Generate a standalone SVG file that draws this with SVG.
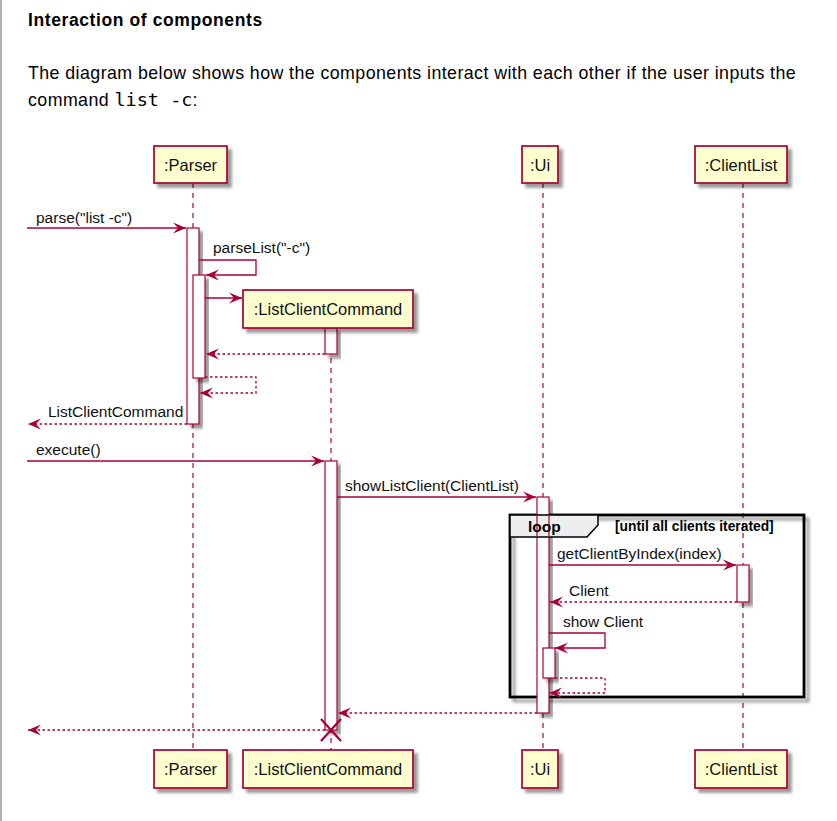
<svg xmlns="http://www.w3.org/2000/svg" width="837" height="821" viewBox="0 0 837 821">
<defs>
<style>
.pbox{fill:#FEFECE;stroke:#A80036;stroke-width:1.7}
.ptxt{font-family:"Liberation Sans",Arial,sans-serif;font-size:16.5px;fill:#111;text-anchor:middle}
.act{fill:#FFFFFF;stroke:#A80036;stroke-width:1.2}
.life{stroke:#A80036;stroke-width:1.2;stroke-dasharray:5,5;fill:none}
.msg{stroke:#A80036;stroke-width:1.3;fill:none;marker-end:url(#ah)}
.ret{stroke:#A80036;stroke-width:1.3;fill:none;stroke-dasharray:2.5,2.5;marker-end:url(#ah)}
.mtxt{font-family:"Liberation Sans",Arial,sans-serif;font-size:15.5px;fill:#111}
.doc{font-family:"Liberation Sans",Arial,sans-serif;fill:#000}
</style>
<marker id="ah" viewBox="-14 -7 15 14" refX="0" refY="0" markerWidth="15" markerHeight="14" markerUnits="userSpaceOnUse" orient="auto">
<path d="M0,0 L-13,-5.5 L-8,0 L-13,5.5 Z" fill="#A80036"/>
</marker>
<filter id="sh" x="-20%" y="-20%" width="150%" height="150%">
<feGaussianBlur in="SourceAlpha" stdDeviation="1.8"/>
<feOffset dx="4" dy="4" result="b"/>
<feFlood flood-color="#000" flood-opacity="0.4"/>
<feComposite in2="b" operator="in"/>
<feMerge><feMergeNode/><feMergeNode in="SourceGraphic"/></feMerge>
</filter>
</defs>
<rect x="0" y="0" width="837" height="821" fill="#FFFFFF"/>
<line x1="1" y1="0" x2="1" y2="821" stroke="#9A9A9A" stroke-width="1.5"/>

<g id="doc-text">
<text class="doc" x="28" y="26" font-size="17.5" font-weight="bold" letter-spacing="0.6">Interaction of components</text>
<text class="doc" x="28" y="79" font-size="17.8" letter-spacing="0.43">The diagram below shows how the components interact with each other if the user inputs the</text>
<text class="doc" x="28" y="106" font-size="17.8" letter-spacing="0.43">command <tspan font-family="DejaVu Sans Mono,monospace" font-size="18.5" letter-spacing="0">list -c</tspan>:</text>
</g>

<g id="lifelines">
<line class="life" x1="193" y1="183" x2="193" y2="750"/>
<line class="life" x1="331" y1="328" x2="331" y2="750"/>
<line class="life" x1="543" y1="183" x2="543" y2="750"/>
<line class="life" x1="743" y1="183" x2="743" y2="750"/>
</g>

<g id="loop-frame">
<rect x="510" y="515" width="294" height="182" fill="none" stroke="#000" stroke-width="2.8" filter="url(#sh)"/>
</g>

<g id="activations">
<rect class="act" x="187" y="228" width="12" height="196" filter="url(#sh)"/>
<rect class="act" x="193" y="275" width="12" height="103" filter="url(#sh)"/>
<rect class="act" x="325" y="328" width="12" height="26" filter="url(#sh)"/>
<rect class="act" x="325" y="461" width="12" height="269" filter="url(#sh)"/>
<rect class="act" x="537" y="497" width="12" height="216" filter="url(#sh)"/>
<rect class="act" x="543" y="648" width="12" height="30" filter="url(#sh)"/>
<rect class="act" x="737" y="565" width="12" height="37" filter="url(#sh)"/>
</g>

<g id="loop-tab">
<path d="M510,515 H598 V525 L587,537 H510 Z" fill="#EEEEEE" stroke="#000" stroke-width="1.5"/>
<path d="M537,516 V536 M549,516 V536" stroke="#A80036" stroke-width="1.2"/>
<text x="528" y="532" font-family="Liberation Sans,Arial,sans-serif" font-size="15.5" font-weight="bold" fill="#000">loop</text>
<text x="615" y="531" font-family="Liberation Sans,Arial,sans-serif" font-size="13.8" font-weight="bold" fill="#000">[until all clients iterated]</text>
</g>

<g id="node-parser-top">
<rect class="pbox" x="154" y="146" width="73" height="37" filter="url(#sh)"/>
<text class="ptxt" x="190.5" y="170.5">:Parser</text>
</g>
<g id="node-ui-top">
<rect class="pbox" x="522" y="146" width="36" height="37" filter="url(#sh)"/>
<text class="ptxt" x="540" y="170.5">:Ui</text>
</g>
<g id="node-clientlist-top">
<rect class="pbox" x="695" y="146" width="92" height="37" filter="url(#sh)"/>
<text class="ptxt" x="741" y="170.5">:ClientList</text>
</g>
<g id="node-listclientcommand">
<rect class="pbox" x="243" y="290" width="170" height="38" filter="url(#sh)"/>
<text class="ptxt" x="328" y="315">:ListClientCommand</text>
</g>

<g id="connectors">
<path class="msg" d="M27,228 H186"/>
<path class="msg" d="M199,260 H256 V275 H206"/>
<path class="msg" d="M205,298 H242"/>
<path class="ret" d="M325,354 H206"/>
<path class="ret" d="M205,377 H256 V393 H200"/>
<path class="ret" d="M187,424 H28"/>
<path class="msg" d="M27,461 H324"/>
<path class="msg" d="M337,497 H536"/>
<path class="msg" d="M549,565 H736"/>
<path class="ret" d="M737,602 H550"/>
<path class="msg" d="M549,633 H605 V648 H555"/>
<path class="ret" d="M555,678 H605 V693 H549"/>
<path class="ret" d="M537,713 H338"/>
<path class="ret" d="M325,730 H28"/>
<path d="M321,719 L341,741 M341,719 L321,741" stroke="#A80036" stroke-width="2.2" fill="none"/>
</g>

<g id="labels">
<text class="mtxt" x="36" y="223">parse("list -c")</text>
<text class="mtxt" x="213" y="253">parseList("-c")</text>
<text class="mtxt" x="48" y="417">ListClientCommand</text>
<text class="mtxt" x="36" y="455">execute()</text>
<text class="mtxt" x="345" y="491">showListClient(ClientList)</text>
<text class="mtxt" x="557" y="559">getClientByIndex(index)</text>
<text class="mtxt" x="569" y="596">Client</text>
<text class="mtxt" x="563" y="627">show Client</text>
</g>

<g id="node-parser-bottom">
<rect class="pbox" x="154" y="750" width="73" height="38" filter="url(#sh)"/>
<text class="ptxt" x="190.5" y="775">:Parser</text>
</g>
<g id="node-listclientcommand-bottom">
<rect class="pbox" x="243" y="750" width="170" height="38" filter="url(#sh)"/>
<text class="ptxt" x="328" y="775">:ListClientCommand</text>
</g>
<g id="node-ui-bottom">
<rect class="pbox" x="522" y="750" width="36" height="38" filter="url(#sh)"/>
<text class="ptxt" x="540" y="775">:Ui</text>
</g>
<g id="node-clientlist-bottom">
<rect class="pbox" x="695" y="750" width="92" height="38" filter="url(#sh)"/>
<text class="ptxt" x="741" y="775">:ClientList</text>
</g>
</svg>
